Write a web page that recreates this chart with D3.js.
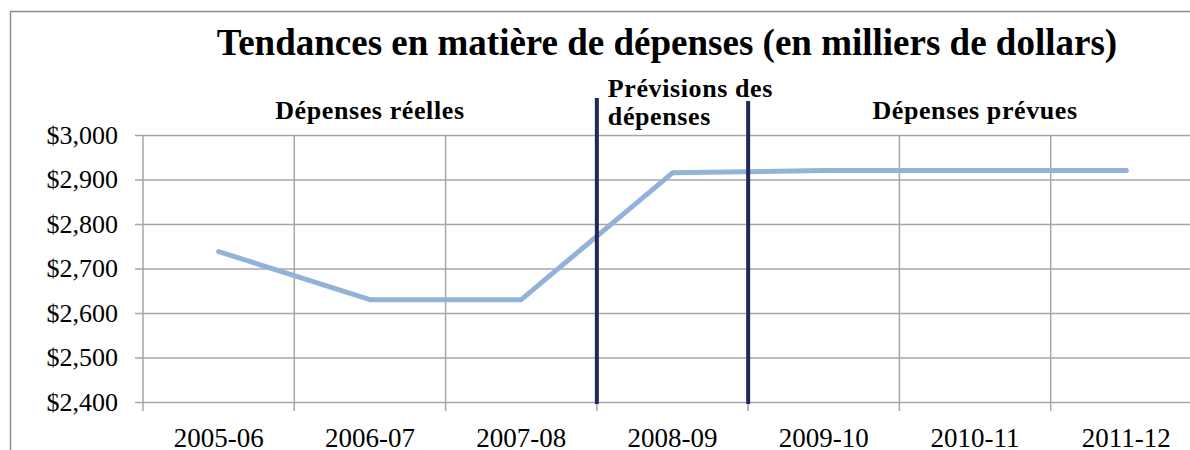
<!DOCTYPE html>
<html>
<head>
<meta charset="utf-8">
<script src="https://cdn.jsdelivr.net/npm/d3@7"></script>
<style>
  body { margin: 0; background: #fff; }
  svg { display: block; font-family: "Liberation Serif", "Times New Roman", serif; }
</style>
</head>
<body>
<script>
var categories = ['2005-06', '2006-07', '2007-08', '2008-09', '2009-10', '2010-11', '2011-12'];
var spending = [2738, 2630, 2630, 2915, 2920, 2920, 2920];
var yTicks = [2400, 2500, 2600, 2700, 2800, 2900, 3000];
// the dark bars sit after these categories
var dividers = ['2007-08', '2008-09'];
var sections = [
    {lines: ['Dépenses réelles'], from: '2005-06', to: '2007-08'},
    {lines: ['Prévisions des', 'dépenses'], from: '2008-09', to: '2008-09'},
    {lines: ['Dépenses prévues'], from: '2009-10', to: '2011-12'}
];
var title = 'Tendances en matière de dépenses (en milliers de dollars)';

var width = 1190,
    height = 450,
    plot = {left: 143, right: 1202, top: 135, bottom: 402};

var svg = d3.select('body').append('svg')
    .attr('width', width)
    .attr('height', height);

// chart frame (right/bottom edges fall outside the picture)
svg.append('rect')
    .attr('x', 10.5).attr('y', 11.5)
    .attr('width', 1250).attr('height', 500)
    .attr('fill', '#fff')
    .attr('stroke', '#8c8c8c')
    .attr('stroke-width', 1.5);

var x = d3.scaleBand()
    .domain(categories)
    .range([plot.left, plot.right])
    .padding(0);

var y = d3.scaleLinear()
    .domain([2400, 3000])
    .range([plot.bottom, plot.top]);

// horizontal grid + y axis
var yAxis = d3.axisLeft(y)
    .tickValues(yTicks)
    .tickSize(plot.right - plot.left + 8)
    .tickFormat(function(d) { return '$' + d3.format(',')(d); });

var gy = svg.append('g')
    .attr('transform', 'translate(' + plot.right + ',0)')
    .call(yAxis);
gy.select('.domain').remove();
gy.selectAll('.tick line').attr('stroke', '#a6a6a6').attr('stroke-width', 1.5);
gy.selectAll('.tick text')
    .attr('x', -(plot.right - plot.left + 8) - 17)
    .attr('fill', '#000')
    .style('font-size', '26px')
    .style('font-family', '"Liberation Serif", serif');

// vertical grid at category edges
var edges = categories.map(function(c) { return x(c); }).concat([x(categories[categories.length - 1]) + x.bandwidth()]);
svg.append('g').selectAll('line')
    .data(edges)
    .enter().append('line')
    .attr('x1', function(d) { return d; })
    .attr('x2', function(d) { return d; })
    .attr('y1', plot.top)
    .attr('y2', plot.bottom + 9)
    .attr('stroke', '#a6a6a6')
    .attr('stroke-width', 1.5);

// x axis labels
var xAxis = d3.axisBottom(x).tickSize(0).tickPadding(26);
var gx = svg.append('g')
    .attr('transform', 'translate(0,' + plot.bottom + ')')
    .call(xAxis);
gx.select('.domain').remove();
gx.selectAll('.tick text')
    .attr('fill', '#000')
    .style('font-size', '27px')
    .style('font-family', '"Liberation Serif", serif');

// the series line
var line = d3.line()
    .x(function(d, i) { return x(categories[i]) + x.bandwidth() / 2; })
    .y(function(d) { return y(d); });

svg.append('path')
    .datum(spending)
    .attr('d', line)
    .attr('fill', 'none')
    .attr('stroke', '#92b2d8')
    .attr('stroke-width', 5)
    .attr('stroke-linecap', 'round')
    .attr('stroke-linejoin', 'round');

// dark separators
svg.append('g').selectAll('line')
    .data(dividers)
    .enter().append('line')
    .attr('x1', function(d) { return x(d) + x.bandwidth(); })
    .attr('x2', function(d) { return x(d) + x.bandwidth(); })
    .attr('y1', function(d, i) { return i === 0 ? 98 : 101; })
    .attr('y2', plot.bottom + 2)
    .attr('stroke', '#1f2a5c')
    .attr('stroke-width', 4);

// section labels
var secG = svg.append('g');
sections.forEach(function(s) {
    var t = secG.append('text')
        .style('font-size', '26px')
        .style('font-weight', 'bold')
        .style('letter-spacing', '0.6px');
    if (s.lines.length === 1) {
        var cx = (x(s.from) + x(s.to) + x.bandwidth()) / 2;
        t.attr('x', cx).attr('y', 119).attr('text-anchor', 'middle').text(s.lines[0]);
    } else {
        s.lines.forEach(function(l, i) {
            t.append('tspan')
                .attr('x', x(s.from) + 11)
                .attr('y', 97 + i * 28)
                .text(l);
        });
    }
});

// title
svg.append('text')
    .attr('x', 667)
    .attr('y', 55)
    .attr('text-anchor', 'middle')
    .style('font-size', '37px')
    .style('font-weight', 'bold')
    .text(title);
</script>
</body>
</html>
